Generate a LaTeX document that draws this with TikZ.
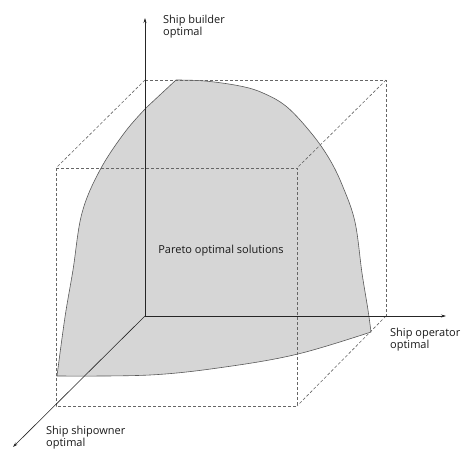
\documentclass[tikz,border=0pt]{standalone}
\usepackage{fontspec}
\setmainfont{Open Sans}
\usetikzlibrary{arrows.meta}
\begin{document}
\begin{tikzpicture}[x=1pt,y=-1pt,
  axis/.style={draw=black!85,line width=0.6pt,-{Stealth[length=5pt,width=3pt]}},
  hidden/.style={draw=black!60,line width=0.6pt,dash pattern=on 3pt off 2pt},
  front/.style={fill=black!16,draw=black!65,line width=0.6pt},
  lbl/.style={inner sep=0pt,align=left,font=\fontsize{11}{8.5}\selectfont,text=black!90}]
\useasboundingbox (0,0) rectangle (467,450);

% corners of the enclosing box
\coordinate (O)  at (145,316);
\coordinate (BT) at (145,80);
\coordinate (BTR) at (386,80);
\coordinate (BBR) at (386,316);
\coordinate (FTL) at (56,168);
\coordinate (FTR) at (297,168);
\coordinate (FBL) at (56,406);
\coordinate (FBR) at (297,406);
% axis ends
\coordinate (Zend) at (145,18);
\coordinate (Xend) at (446,316);
\coordinate (Yend) at (13,447);

% Pareto front surface
\path[front] (57,376)
  -- plot[smooth,tension=0.6] coordinates {(57,376) (150,375) (225,367) (298,354) (371,332)}
  -- plot[smooth,tension=0.6] coordinates {(371,332) (368,310) (362,273) (355,222) (343,187) (330,160) (312,134) (287,107) (263,93) (240,86) (205,81) (176,80)}
  -- (147,107)
  -- plot[smooth,tension=0.6] coordinates {(147,107) (125,132) (100,170) (82,213) (73,270) (65,317) (57,376)}
  -- cycle;

% dashed box
\draw[hidden] (BT) -- (BTR) -- (BBR);
\draw[hidden] (FTL) -- (FTR) -- (FBR) -- (FBL) -- cycle;
\draw[hidden] (BT) -- (FTL);
\draw[hidden] (BTR) -- (FTR);
\draw[hidden] (BBR) -- (FBR);

% axes
\draw[axis] (O) -- (Zend);
\draw[axis] (O) -- (Xend);
\draw[axis] (O) -- (Yend);

% labels
\node[lbl,anchor=north west] (lz) at (163,15) {Ship builder\\optimal};
\node[lbl,anchor=north west] (lx) at (390,328) {Ship operator\\optimal};
\node[lbl,anchor=south west] (ly) at (46,449) {Ship shipowner\\optimal};
\node[lbl,anchor=center] (lp) at (221,251) {Pareto optimal solutions};
\end{tikzpicture}
\end{document}
